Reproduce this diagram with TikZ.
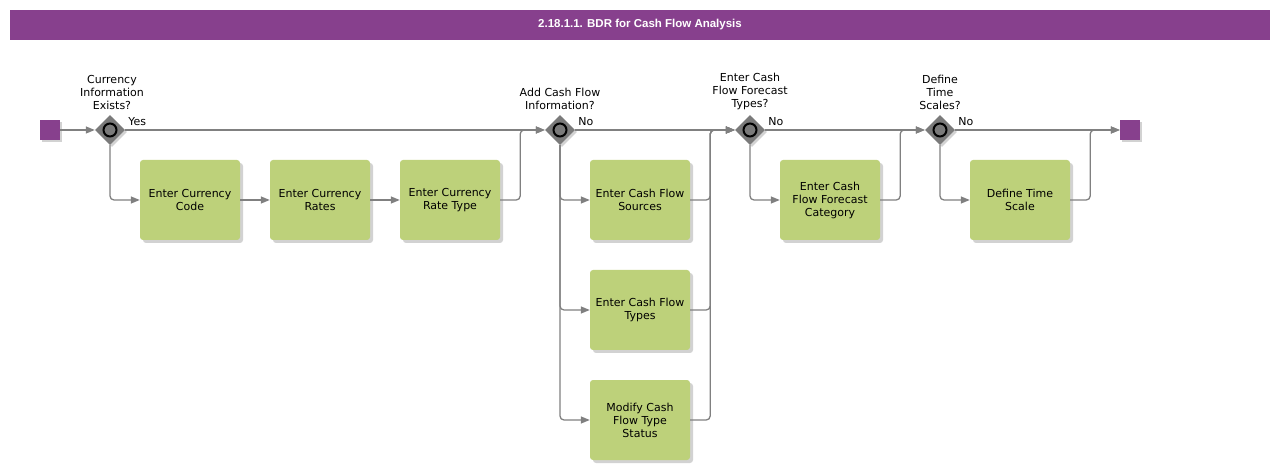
\documentclass[tikz,border=0pt]{standalone}
\usepackage{fontspec}
\setmainfont{DejaVu Sans}
\newfontfamily\titlefont{Liberation Sans}
\usetikzlibrary{shapes.geometric,arrows.meta,shadows}
\definecolor{purp}{HTML}{87408D}
\definecolor{boxgreen}{HTML}{BDD17A}
\definecolor{lineg}{HTML}{808080}
\definecolor{gw}{HTML}{7A7A7A}
\begin{document}
\begin{tikzpicture}[x=1pt,y=-1pt,
  txt/.style={font=\fontsize{11}{13}\selectfont, align=center},
  task/.style={txt, fill=boxgreen, rounded corners=3pt, minimum width=100pt, minimum height=80pt, inner sep=2pt,
    drop shadow={shadow xshift=3pt, shadow yshift=-3pt, fill=black!35, opacity=0.5}},
  gate/.style={diamond, fill=gw, minimum size=30pt, inner sep=0pt,
    drop shadow={shadow xshift=2pt, shadow yshift=-2pt, fill=black!35, opacity=0.5}},
  event/.style={fill=purp, minimum size=20pt, inner sep=0pt,
    drop shadow={shadow xshift=2pt, shadow yshift=-2pt, fill=black!35, opacity=0.5}},
  glabel/.style={txt, anchor=south, inner sep=0pt},
  cond/.style={txt, anchor=base west, inner sep=0pt},
  flow/.style={draw=lineg, line width=1.3pt, rounded corners=4pt, -{Triangle[length=9pt,width=7pt]}}
]
\useasboundingbox (0,0) rectangle (1280,470);
\fill[purp] (10,10) rectangle (1270,40);
\node[text=white, font=\titlefont\bfseries\fontsize{11.5}{13}\selectfont] (title) at (640,25) {2.18.1.1. BDR for Cash Flow Analysis};

\node[event] (s) at (50,130) {};
\node[event] (e) at (1130,130) {};
\node[gate] (g1) at (110,130) {};
\node[gate] (g2) at (560,130) {};
\node[gate] (g3) at (750,130) {};
\node[gate] (g4) at (940,130) {};
\foreach \g in {g1,g2,g3,g4} \draw[line width=2pt, fill=gw] (\g.center) circle (6.5);

\node[glabel] (l1) at ([xshift=2pt,yshift=5pt]g1.north) {Currency\\Information\\Exists?};
\node[glabel] (l2) at ([yshift=5pt]g2.north) {Add Cash Flow\\Information?};
\node[glabel] (l3) at ([yshift=5pt]g3.north) {Enter Cash\\Flow Forecast\\Types?};
\node[glabel] (l4) at ([yshift=5pt]g4.north) {Define\\Time\\Scales?};

\node[cond] (c1) at ([xshift=3pt,yshift=4pt]g1.east) {Yes};
\node[cond] (c2) at ([xshift=3pt,yshift=4pt]g2.east) {No};
\node[cond] (c3) at ([xshift=3pt,yshift=4pt]g3.east) {No};
\node[cond] (c4) at ([xshift=3pt,yshift=4pt]g4.east) {No};

\node[task] (b1) at (190,200) {Enter Currency\\Code};
\node[task] (b2) at (320,200) {Enter Currency\\Rates};
\node[task] (b3) at (450,200) {Enter Currency\\Rate Type};
\node[task] (b4) at (640,200) {Enter Cash Flow\\Sources};
\node[task] (b5) at (640,310) {Enter Cash Flow\\Types};
\node[task] (b6) at (640,420) {Modify Cash\\Flow Type\\Status};
\node[task] (b7) at (830,200) {Enter Cash\\Flow Forecast\\Category};
\node[task] (b8) at (1020,200) {Define Time\\Scale};

\draw[flow] (s.east) -- (g1.west);
\draw[flow] (g1.east) -- (g2.west);
\draw[flow] (g1.south) |- (b1.west);
\draw[flow] (b1.east) -- (b2.west);
\draw[flow] (b2.east) -- (b3.west);
\draw[flow] (b3.east) -- ++(20,0) |- (g2.west);

\draw[flow] (g2.east) -- (g3.west);
\draw[flow] (g2.south) |- (b4.west);
\draw[flow] (g2.south) |- (b5.west);
\draw[flow] (g2.south) |- (b6.west);
\draw[flow] (b4.east) -- ++(20,0) |- (g3.west);
\draw[flow] (b5.east) -- ++(20,0) |- (g3.west);
\draw[flow] (b6.east) -- ++(20,0) |- (g3.west);

\draw[flow] (g3.east) -- (g4.west);
\draw[flow] (g3.south) |- (b7.west);
\draw[flow] (b7.east) -- ++(20,0) |- (g4.west);

\draw[flow] (g4.east) -- (e.west);
\draw[flow] (g4.south) |- (b8.west);
\draw[flow] (b8.east) -- ++(20,0) |- (e.west);
\end{tikzpicture}
\end{document}
